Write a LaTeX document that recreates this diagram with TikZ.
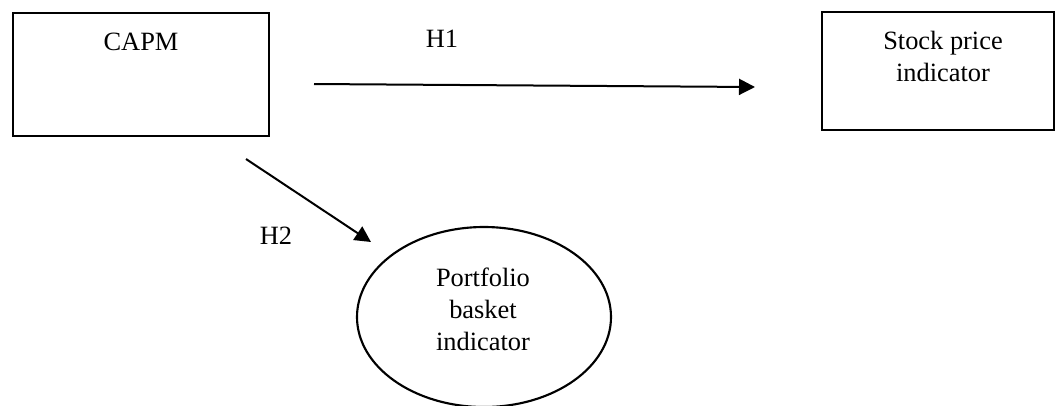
\documentclass[tikz,border=0pt]{standalone}
\usepackage{fontspec}
\setmainfont{Liberation Serif}
\usetikzlibrary{arrows.meta,shapes.geometric}
\begin{document}
\begin{tikzpicture}[x=0.75pt,y=-0.75pt,
  box/.style={draw=black,line width=1.9pt,rectangle,inner sep=0pt},
  oval/.style={draw=black,line width=1.6pt,ellipse,inner sep=0pt,minimum width=190.5pt,minimum height=135pt},
  lbl/.style={inner sep=0pt,align=center,font=\fontsize{19.8}{24}\selectfont},
  conn/.style={draw=black,line width=1.5pt,-{Triangle[length=12pt,width=12pt]}}]
\useasboundingbox (0,0) rectangle (1056,405);
% boxes
\node[box,minimum width=192pt,minimum height=92.25pt] (capm) at (141,74.5) {};
\node[lbl] (capmtext) at (141,42) {CAPM};
\node[box,minimum width=174pt,minimum height=88.5pt] (stock) at (938,71) {};
\node[lbl] (stocktext) at (943,56) {Stock price\\indicator};
\node[oval] (port) at (484,317) {};
\node[lbl] (porttext) at (483,309) {Portfolio\\basket\\indicator};
% arrows
\coordinate (h1s) at (314,84);
\coordinate (h1e) at (755,87);
\coordinate (h2s) at (246,159);
\coordinate (h2e) at (371,242);
\draw[conn] (h1s) -- (h1e);
\draw[conn] (h2s) -- (h2e);
\node[lbl] (h1) at (442,39) {H1};
\node[lbl] (h2) at (276,236) {H2};
\end{tikzpicture}
\end{document}
